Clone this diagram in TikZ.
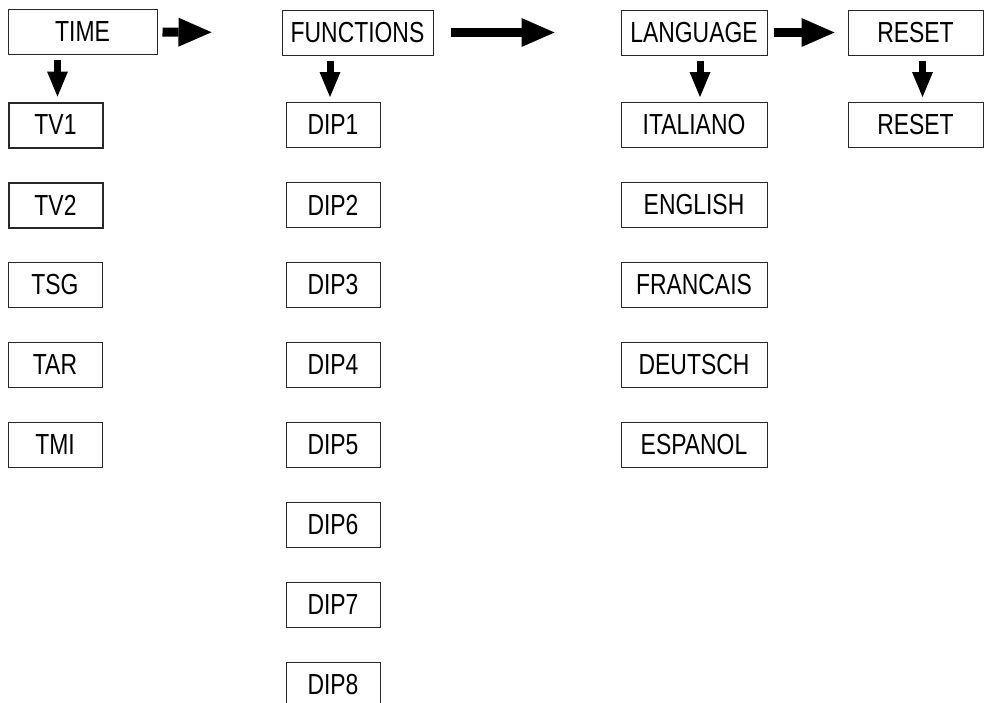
\documentclass[tikz,border=0pt]{standalone}
\usepackage{fontspec}
\setmainfont{Liberation Sans}[FakeStretch=0.79]
\usepackage{tikz}
\usetikzlibrary{arrows.meta, positioning, calc}
\definecolor{lcdLine}{RGB}{40, 40, 40}

\begin{document}
\begin{tikzpicture}[x=1pt, y=-1pt,
    menubox/.style={draw=lcdLine, line width=1pt, inner sep=0pt, minimum height=45pt, font=\fontsize{29}{30}\selectfont},
    itembox/.style={menubox, minimum width=94pt},
    bigarrow/.style={line width=9pt, -{Triangle[length=33pt, width=29pt, line width'=0pt]}},
    downarrow/.style={line width=7pt, -{Triangle[length=25pt, width=21pt, line width'=0pt]}}]
      \useasboundingbox (0,0) rectangle (987,702);

      \node[menubox, minimum width=149pt] (time) at (82.5,32) {TIME};
      \node[itembox, line width=2pt] (tv1) at (55.5,125) {TV1};
      \node[itembox, line width=2pt] (tv2) at (55.5,205) {TV2};
      \node[itembox] (tsg) at (55,285) {TSG};
      \node[itembox] (tar) at (55,365) {TAR};
      \node[itembox] (tmi) at (55,445) {TMI};

      \node[menubox, minimum width=151pt] (functions) at (357.5,32.5) {FUNCTIONS};
      \node[itembox] (dip1) at (333,125) {DIP1};
      \node[itembox] (dip2) at (333,205) {DIP2};
      \node[itembox] (dip3) at (333,285) {DIP3};
      \node[itembox] (dip4) at (333,365) {DIP4};
      \node[itembox] (dip5) at (333,445) {DIP5};
      \node[itembox] (dip6) at (333,525) {DIP6};
      \node[itembox] (dip7) at (333,605) {DIP7};
      \node[itembox] (dip8) at (333,685) {DIP8};

      \node[menubox, minimum width=146pt] (language) at (694,32.5) {LANGUAGE};
      \node[menubox, minimum width=146pt] (italiano) at (694,125) {ITALIANO};
      \node[menubox, minimum width=146pt] (english) at (694,205) {ENGLISH};
      \node[menubox, minimum width=146pt] (francais) at (694,285) {FRANCAIS};
      \node[menubox, minimum width=146pt] (deutsch) at (694,365) {DEUTSCH};
      \node[menubox, minimum width=146pt] (espanol) at (694,445) {ESPANOL};

      \node[menubox, minimum width=135pt] (reset) at (915.5,32.5) {RESET};
      \node[menubox, minimum width=135pt] (reset2) at (915.5,125) {RESET};

      \draw[bigarrow, shorten <=5pt, shorten >=70pt] (time) -- (functions);
      \draw[bigarrow, shorten <=17pt, shorten >=66pt] (functions) -- (language);
      \draw[bigarrow, shorten <=6pt, shorten >=13pt] (language) -- (reset);

      \draw[downarrow, shorten <=5pt, shorten >=5pt] ($(time.south -| tv1)+(2,0)$) -- ($(tv1.north)+(2,0)$);
      \draw[downarrow, shorten <=5pt, shorten >=5pt] ($(functions.south -| dip1)+(-3,0)$) -- ($(dip1.north)+(-3,0)$);
      \draw[downarrow, shorten <=5pt, shorten >=5pt] ($(language.south -| italiano)+(6,0)$) -- ($(italiano.north)+(6,0)$);
      \draw[downarrow, shorten <=5pt, shorten >=5pt] ($(reset.south -| reset2)+(7,0)$) -- ($(reset2.north)+(7,0)$);
    \end{tikzpicture}
\end{document}
